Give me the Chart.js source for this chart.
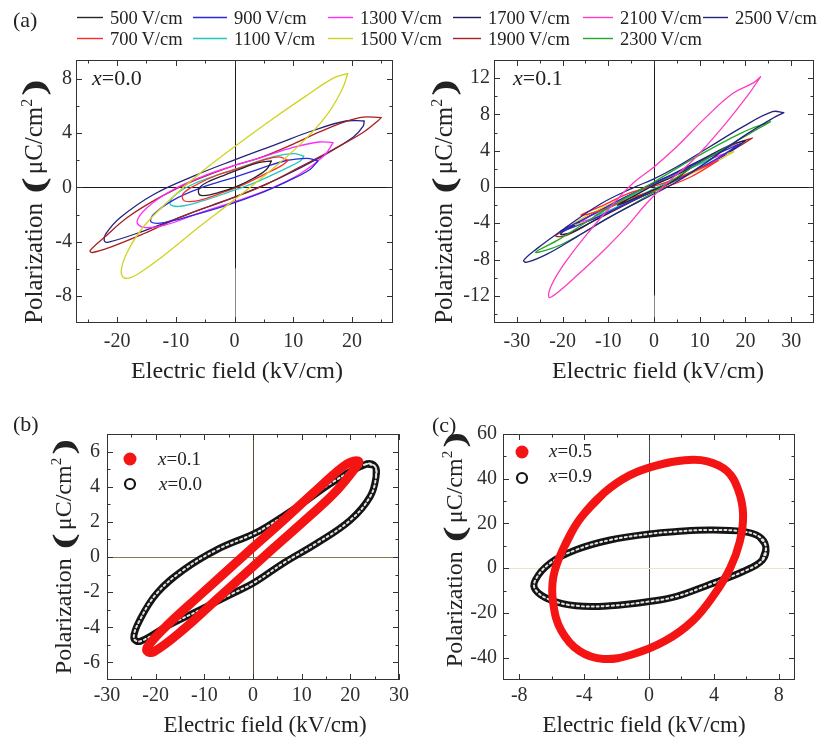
<!DOCTYPE html>
<html>
<head>
<meta charset="utf-8">
<script src="https://cdn.jsdelivr.net/npm/chart.js@4.4.1/dist/chart.umd.min.js"></script>
<style>
  html, body { margin: 0; padding: 0; background: #fff; }
  #wrap { position: relative; width: 819px; height: 742px; overflow: hidden; }
  canvas { position: absolute; left: 0; top: 0; }
</style>
</head>
<body>
<div id="wrap">
  <canvas id="pa0" width="819" height="742"></canvas>
  <canvas id="pa1" width="819" height="742"></canvas>
  <canvas id="pb" width="819" height="742"></canvas>
  <canvas id="pc" width="819" height="742"></canvas>
</div>
<script>
// ---- panel (a): field amplitudes
const fieldNames = ['500\u2009V/cm', '700\u2009V/cm', '900\u2009V/cm', '1100\u2009V/cm', '1300\u2009V/cm', '1500\u2009V/cm',
                    '1700\u2009V/cm', '1900\u2009V/cm', '2100\u2009V/cm', '2300\u2009V/cm', '2500\u2009V/cm'];
const fieldColors = ['#262626', '#ff2b2b', '#2a2ad8', '#1fc8c0', '#ff2bff', '#d2d21e',
                     '#1c1c5c', '#a82020', '#ff3cc0', '#22a822', '#24247e'];

// x = 0.0 loops, [E (kV/cm), P (uC/cm2)]
const a0_500  = [[6.3,1.95],[4.3,1.85],[1.5,1.45],[-1.5,0.95],[-4.1,0.5],[-5.8,0.05],[-6.1,-0.45],[-5.3,-0.6],[-2.5,-0.35],[0.5,0.1],[3.3,0.7],[5.4,1.3]];
const a0_700  = [[9.2,2.0],[7.5,2.25],[4.5,1.95],[1.0,1.45],[-3,0.9],[-6.5,0.2],[-8.8,-0.5],[-8.5,-1.0],[-6,-0.95],[-2.5,-0.45],[1.5,0.2],[5,0.95],[7.8,1.55]];
const a0_900  = [[14.2,1.95],[12.3,2.15],[8.5,1.95],[4.5,1.4],[0,0.75],[-5.5,0],[-10.5,-0.95],[-13.8,-2.0],[-14.2,-2.55],[-12,-2.6],[-7,-2.05],[-1.5,-1.35],[4,-0.5],[9,0.45],[12.8,1.3]];
const a0_1100 = [[11.8,2.3],[10,2.5],[6.5,2.25],[2.5,1.7],[-2,1.05],[-6.5,0.35],[-9.8,-0.45],[-11,-1.2],[-9.5,-1.4],[-5.5,-1.0],[-1,-0.35],[4,0.45],[8.5,1.35],[11.2,1.95]];
const a0_1300 = [[16.8,3.3],[14.5,3.35],[10,2.95],[4.5,2.2],[-0.5,1.55],[-5.8,0.75],[-11,-0.3],[-14.9,-1.5],[-16.6,-2.5],[-15.5,-2.95],[-12,-2.8],[-6,-1.9],[0,-1.05],[5.5,-0.2],[11,0.95],[15.3,2.35]];
const a0_1500 = [[19.3,8.4],[17,8.1],[12,6.7],[6,4.9],[0,3.0],[-6,1.0],[-11,-0.9],[-15.5,-2.9],[-18.3,-4.8],[-19.3,-6.2],[-18.6,-6.7],[-16.5,-6.4],[-12,-5.0],[-6,-2.9],[0,-0.9],[6,1.2],[11,3.1],[15.5,5.2],[18.3,7.2]];
const a0_1900 = [[25,5.15],[21.3,5.15],[15.6,4.3],[10,3.2],[4.4,2.2],[-0.2,1.6],[-6.9,0.5],[-12.6,-0.7],[-18.2,-2.2],[-22.2,-3.7],[-24.6,-4.66],[-24.2,-4.8],[-21.1,-4.4],[-15.4,-3.4],[-9.8,-2.3],[-4.1,-1.35],[-0.2,-0.75],[5.5,0.25],[11.1,1.5],[16.8,2.8],[21.9,4.05],[24.4,4.9]];
const a0_2500 = [[22.1,4.9],[19,4.9],[13.4,4.2],[7.2,3.2],[-0.2,2.0],[-6.9,0.85],[-13.7,-0.5],[-19.4,-2.2],[-21.9,-3.4],[-22.2,-3.9],[-21.6,-4.05],[-15.4,-3.2],[-8.1,-2.0],[-0.2,-0.75],[7.2,0.6],[14.5,2.2],[20.2,3.7],[21.9,4.5]];

// x = 0.1 loops
const a1_500  = [[8,2.1],[4,1.1],[0,0.2],[-4,-0.9],[-8,-2.0],[-4,-1.2],[0,-0.3],[4,0.6]];
const a1_700  = [[14,2.9],[8,1.6],[2,0.4],[-5,-0.6],[-11,-2.0],[-16,-3.1],[-11,-2.5],[-5,-1.2],[2,-0.1],[8,1.1]];
const a1_900  = [[19,4.8],[14,3.7],[6,1.8],[0,0.4],[-7,-1.3],[-14,-3.2],[-20.5,-4.9],[-14,-3.7],[-6,-1.8],[0,-0.4],[7,1.3],[14,3.2]];
const a1_1100 = [[13,3.2],[9,2.3],[3,0.9],[-3,-0.5],[-9,-2.0],[-13,-3.2],[-9,-2.4],[-3,-0.9],[3,0.5],[9,1.9]];
const a1_1300 = [[16,3.8],[12,3.0],[5,1.4],[0,0.3],[-6,-1.1],[-12,-2.7],[-16,-3.8],[-12,-3.2],[-5,-1.5],[0,-0.3],[6,1.1],[12,2.5]];
const a1_1500 = [[17.5,3.9],[14,3.4],[7,1.9],[0,0.35],[-7,-1.3],[-14,-3.0],[-17.5,-4.1],[-14,-3.7],[-7,-2.0],[0,-0.35],[7,1.2],[14,2.9]];
const a1_1700 = [[20,5.1],[17,4.7],[10,2.9],[4,1.4],[0,0.45],[-5,-0.8],[-12,-2.6],[-18,-4.4],[-20.5,-5.2],[-18,-5.0],[-12,-3.4],[-5,-1.6],[0,-0.45],[5,0.8],[12,2.5],[17.5,4.2]];
const a1_1900 = [[21.5,5.4],[18.5,4.9],[12,3.3],[5,1.5],[0,0.35],[-6,-1.1],[-13,-2.9],[-19,-4.6],[-21.5,-5.4],[-19,-5.3],[-13,-3.7],[-6,-1.9],[0,-0.4],[6,1.0],[13,2.8],[19,4.6]];
const a1_2100 = [[23.3,12.15],[21.8,11.5],[17.2,10.3],[11.4,7.7],[4.9,4.4],[0,2.2],[-4.6,0.4],[-8.9,-1.85],[-14,-4.8],[-19.1,-8.1],[-22.3,-10.7],[-23,-12.15],[-21.5,-11.8],[-16.5,-9.6],[-11.8,-7.4],[-6,-4.4],[-1.7,-1.85],[2.7,0.37],[8.5,2.95],[15,6.6],[20.8,10.3]];
const a1_2300 = [[25.5,7.2],[19.3,6.0],[8.5,3.1],[0,0.55],[-9.6,-2.2],[-20.5,-5.7],[-25.9,-7.2],[-20.5,-6.4],[-9.6,-3.3],[0,-0.55],[8.5,2.2],[19.3,5.4]];
const a1_2500 = [[28.4,8.2],[25.9,8.3],[19.3,6.6],[12.1,4.4],[4.9,2.2],[0,0.9],[-4.6,-0.1],[-11.8,-1.9],[-19.1,-4.4],[-25.6,-6.8],[-28.5,-8.1],[-27.8,-8.3],[-23.4,-7.4],[-16.9,-5.5],[-9.6,-3.3],[0,-0.75],[4.9,0.55],[12.1,2.95],[19.3,5.5],[25.9,7.55]];

// ---- panel (b)
const b_x01 = [[21.7,5.45],[19.3,5.3],[13.2,3.85],[6.3,2.1],[0,0.55],[-4,-0.45],[-10.8,-2.15],[-17.7,-3.9],[-21.4,-5.0],[-21.8,-5.35],[-20.4,-5.4],[-14.2,-4.1],[-7.4,-2.4],[0,-0.55],[4.2,0.5],[11.1,2.2],[16.6,3.6],[20.7,4.95]];
const b_x00 = [[25.1,5.15],[23.4,5.3],[16.6,4.3],[9.7,2.97],[2.9,1.74],[0,1.3],[-7.4,0.42],[-14.2,-0.72],[-19.7,-2.05],[-23.2,-3.56],[-24.5,-4.6],[-23.2,-4.8],[-17.7,-3.94],[-10.8,-3.0],[-4,-2.05],[0,-1.5],[6.3,-0.34],[13.2,0.8],[20,2.1],[24.1,3.45],[25.3,4.6]];

// ---- panel (c)
const c_x05 = [[-4.3,21.6],[-2.8,33.5],[-1.2,41.5],[0.5,46],[2.2,48.3],[3.6,47.8],[4.8,43.5],[5.5,35],[5.8,24],[5.6,12],[5.0,0],[4.0,-12],[2.7,-23.5],[1.0,-32.5],[-1.0,-38.5],[-2.8,-40.6],[-4.3,-37],[-5.4,-28],[-5.9,-16],[-5.9,-4],[-5.3,8.5]];
const c_x09 = [[7.2,9.7],[6.8,14.1],[5.8,16.4],[3.7,17.1],[1.7,16.4],[0,15.3],[-2.4,12.6],[-4.5,8.2],[-6.1,2.2],[-7.0,-5.2],[-7.0,-9.7],[-6.1,-14.1],[-4.5,-16.8],[-2.4,-16.8],[0,-14.9],[1.7,-12.6],[3.7,-7.4],[5.8,-1.5],[7.0,3.7]];

// ---- tick labels
const a0XTicks = [-20, -10, 0, 10, 20];
const a0YTicks = [-8, -4, 0, 4, 8];
const a1XTicks = [-30, -20, -10, 0, 10, 20, 30];
const a1YTicks = [-12, -8, -4, 0, 4, 8, 12];
const bXTicks = [-30, -20, -10, 0, 10, 20, 30];
const bYTicks = [-6, -4, -2, 0, 2, 4, 6];
const cXTicks = [-8, -4, 0, 4, 8];
const cYTicks = [-40, -20, 0, 20, 40, 60];

const SERIF = '"Liberation Serif", "Times New Roman", serif';
const RED = '#f51414';

// closed loop; "wrap" repeats neighbours so the spline has no corner at the seam
function loop(arr, wrap) {
  const p = arr.map(([x, y]) => ({ x, y }));
  const first = { x: arr[0][0], y: arr[0][1] };
  if (!wrap) return p.concat([first]);
  const last = arr[arr.length - 1];
  return [{ x: last[0], y: last[1] }].concat(p, [first, { x: arr[1][0], y: arr[1][1] }]);
}
function lineSet(arr, color, width, dash, wrap) {
  return { data: loop(arr, wrap), showLine: true, borderColor: color, backgroundColor: color,
           borderWidth: width, borderDash: dash || [], pointRadius: 0, pointHoverRadius: 0,
           tension: 0.4, borderCapStyle: 'round', borderJoinStyle: 'round', fill: false };
}

function axis(min, max, ticks, pad, isX) {
  return {
    type: 'linear', min, max,
    afterBuildTicks: s => { s.ticks = ticks.map(v => ({ value: v })); },
    afterFit: s => { if (isX) s.height = 40; else s.width = 60; },
    grid: { display: false, drawTicks: false },
    border: { display: false },
    ticks: { padding: pad, color: '#2e2e2e', autoSkip: false, maxRotation: 0,
             font: { family: SERIF, size: 20 }, callback: v => String(v) }
  };
}

function minors(min, max, step, majors) {
  const out = [];
  for (let v = Math.ceil(min / step) * step; v < max; v += step) {
    if (v > min && !majors.includes(v)) out.push(v);
  }
  return out;
}

function framePlugin(p, extra) {
  return {
    id: 'frame_' + p.id,
    beforeDatasetsDraw(chart) {
      const { ctx, scales: { x, y } } = chart;
      ctx.save();
      ctx.lineWidth = 1;
      for (const z of p.zero) {
        ctx.strokeStyle = z.color;
        ctx.beginPath();
        if (z.dir === 'v') {
          const px = Math.round(x.getPixelForValue(0)) + 0.5;
          ctx.moveTo(px, y.getPixelForValue(z.from));
          ctx.lineTo(px, y.getPixelForValue(z.to));
        } else {
          const py = Math.round(y.getPixelForValue(0)) + 0.5;
          ctx.moveTo(x.getPixelForValue(z.from), py);
          ctx.lineTo(x.getPixelForValue(z.to), py);
        }
        ctx.stroke();
      }
      ctx.restore();
    },
    afterDatasetsDraw(chart) {
      const { ctx, chartArea: a, scales: { x, y } } = chart;
      ctx.save();
      ctx.strokeStyle = '#333';
      ctx.lineWidth = 1;
      ctx.beginPath();
      const xt = (v, len) => {
        const px = Math.round(x.getPixelForValue(v)) + 0.5;
        ctx.moveTo(px, a.bottom); ctx.lineTo(px, a.bottom - len);
        ctx.moveTo(px, a.top); ctx.lineTo(px, a.top + len);
      };
      const yt = (v, len) => {
        const py = Math.round(y.getPixelForValue(v)) + 0.5;
        ctx.moveTo(a.left, py); ctx.lineTo(a.left + len, py);
        ctx.moveTo(a.right, py); ctx.lineTo(a.right - len, py);
      };
      p.xt.forEach(v => xt(v, 6));
      p.yt.forEach(v => yt(v, 6));
      minors(p.x[0], p.x[1], p.xm, p.xt).forEach(v => xt(v, 3.5));
      minors(p.y[0], p.y[1], p.ym, p.yt).forEach(v => yt(v, 3.5));
      ctx.stroke();
      ctx.strokeRect(a.left + 0.5, a.top + 0.5, a.right - a.left - 1, a.bottom - a.top - 1);
      ctx.restore();
    },
    afterDraw(chart) { extra(chart.ctx); }
  };
}

function panel(id, p, datasets, extra) {
  return new Chart(document.getElementById(id), {
    type: 'scatter',
    data: { datasets },
    options: {
      responsive: false, animation: false, events: [],
      layout: { padding: { left: p.box[0] - 60, top: p.box[1], right: 819 - p.box[2], bottom: 742 - p.box[3] - 40 } },
      plugins: { legend: { display: false }, tooltip: { enabled: false } },
      scales: { x: axis(p.x[0], p.x[1], p.xt, p.xpad, true), y: axis(p.y[0], p.y[1], p.yt, p.ypad, false) }
    },
    plugins: [framePlugin(p, extra)]
  });
}

// ---- text helpers
function txt(ctx, s, x, y, size, align, style) {
  ctx.font = (style || '') + ' ' + size + 'px ' + SERIF;
  ctx.textAlign = align || 'left';
  ctx.textBaseline = 'alphabetic';
  ctx.fillStyle = '#222';
  ctx.fillText(s, x, y);
}
function xEq(ctx, rest, x, y, size) {
  txt(ctx, 'x', x, y, size, 'left', 'italic');
  const w = ctx.measureText('x').width;
  txt(ctx, rest, x + w, y, size, 'left');
}
function xTitle(ctx, cx, by, size) {
  txt(ctx, 'Electric field (kV/cm)', cx, by, size, 'center');
}
// rotated axis title with the tall, wide brackets of the original
function yTitle(ctx, bx, cy, size) {
  const pf = 'bold ' + Math.round(size * 1.25) + 'px ';
  const stretch = 1.6, gap = 3;
  const segs = [
    ['Polarization ', size + 'px ', 0, 1],
    ['(', pf, 2, stretch],
    ['\u03bcC/cm', size + 'px ', 0, 1],
    ['2', Math.round(size * 0.62) + 'px ', -size * 0.42, 1],
    [')', pf, 2, stretch]
  ];
  ctx.save();
  ctx.translate(bx, cy);
  ctx.rotate(-Math.PI / 2);
  ctx.textAlign = 'left';
  ctx.textBaseline = 'alphabetic';
  ctx.fillStyle = '#222';
  const widths = segs.map(([s, f, dy, k]) => { ctx.font = f + SERIF; return ctx.measureText(s).width * k + (k > 1 ? 2 * gap : 0); });
  const total = widths.reduce((a, b) => a + b, 0);
  let cur = -total / 2;
  segs.forEach(([s, f, dy, k], i) => {
    ctx.font = f + SERIF;
    if (k > 1) {
      ctx.save(); ctx.translate(cur + gap, dy); ctx.scale(k, 1); ctx.fillText(s, 0, 0); ctx.restore();
    } else {
      ctx.fillText(s, cur, dy);
    }
    cur += widths[i];
  });
  ctx.restore();
}

// ---- panel (a) left, x = 0.0
const legLineX = [77, 193, 328, 453, 583, 703];
const legTextX = [110, 234, 360, 488, 620, 735];
const legRowY = [17, 38];
const a0Loops = [a0_500, a0_700, a0_900, a0_1100, a0_1300, a0_1500, null, a0_1900, null, null, a0_2500];
const a1Loops = [a1_500, a1_700, a1_900, a1_1100, a1_1300, a1_1500, a1_1700, a1_1900, a1_2100, a1_2300, a1_2500];

function fieldSets(loops, topFirst) {
  const idx = loops.map((l, i) => i).filter(i => loops[i]);
  const order = topFirst.concat(idx.filter(i => !topFirst.includes(i)));
  return order.map(i => lineSet(loops[i], fieldColors[i], 1.3));
}

panel('pa0', {
  id: 'a0', box: [76, 60, 393, 323], x: [-27, 27], y: [-10, 9.4], xt: a0XTicks, yt: a0YTicks, xm: 5, ym: 2, xpad: 7, ypad: 4,
  zero: [{ dir: 'v', from: -6, to: 9.4, color: '#1a1a1a' }, { dir: 'v', from: -10, to: -6, color: '#8a8a8a' },
         { dir: 'h', from: -27, to: 27, color: '#1a1a1a' }]
}, fieldSets(a0Loops, [5]), ctx => {
  txt(ctx, '(a)', 13, 27, 22);
  fieldNames.forEach((n, i) => {
    const col = Math.floor(i / 2), row = i % 2;
    const y = legRowY[row];
    ctx.save();
    ctx.strokeStyle = fieldColors[i]; ctx.lineWidth = 1.4;
    ctx.beginPath(); ctx.moveTo(legLineX[col], y + 0.5); ctx.lineTo(legTextX[col] - 7, y + 0.5); ctx.stroke();
    ctx.restore();
    txt(ctx, n, legTextX[col], y + 6.5, 18.5);
  });
  xEq(ctx, '=0.0', 92, 85, 22);
  xTitle(ctx, 237, 378, 24);
  yTitle(ctx, 42, 200, 25);
});

// ---- panel (a) right, x = 0.1
panel('pa1', {
  id: 'a1', box: [494, 60, 814, 323], x: [-35, 35], y: [-15, 14], xt: a1XTicks, yt: a1YTicks, xm: 5, ym: 2, xpad: 7, ypad: 4,
  zero: [{ dir: 'v', from: -12, to: 14, color: '#1a1a1a' }, { dir: 'v', from: -15, to: -12, color: '#8a8a8a' },
         { dir: 'h', from: -35, to: 35, color: '#1a1a1a' }]
}, fieldSets(a1Loops, [8, 10, 9]), ctx => {
  xEq(ctx, '=0.1', 513, 85, 22);
  xTitle(ctx, 658, 378, 24);
  yTitle(ctx, 452, 200, 25);
});

// ---- panel (b)
panel('pb', {
  id: 'b', box: [107, 434, 399, 680], x: [-30, 30], y: [-7, 7], xt: bXTicks, yt: bYTicks, xm: 5, ym: 1, xpad: 4, ypad: 7,
  zero: [{ dir: 'v', from: -7, to: 7, color: '#5c4b2e' }, { dir: 'h', from: -30, to: 30, color: '#8c7b52' }]
}, [lineSet(b_x01, RED, 9, null, true), lineSet(b_x00, '#e4e4e4', 2, [2, 3], true), lineSet(b_x00, '#141414', 7, null, true)], ctx => {
  txt(ctx, '(b)', 13, 431, 22);
  ctx.save();
  ctx.fillStyle = RED; ctx.beginPath(); ctx.arc(130, 459, 6.5, 0, Math.PI * 2); ctx.fill();
  ctx.strokeStyle = '#141414'; ctx.lineWidth = 2.2; ctx.beginPath(); ctx.arc(130, 484, 5, 0, Math.PI * 2); ctx.stroke();
  ctx.restore();
  xEq(ctx, '=0.1', 158, 465, 19);
  xEq(ctx, '=0.0', 159, 490, 19);
  xTitle(ctx, 265, 732, 23);
  yTitle(ctx, 71, 555, 24);
});

// ---- panel (c)
panel('pc', {
  id: 'c', box: [503, 434, 795, 680], x: [-9, 9], y: [-50, 60], xt: cXTicks, yt: cYTicks, xm: 2, ym: 10, xpad: 4, ypad: 6,
  zero: [{ dir: 'v', from: -50, to: 60, color: '#4a4a4a' }, { dir: 'h', from: -9, to: 9, color: '#efe4c0' }]
}, [lineSet(c_x05, RED, 8, null, true), lineSet(c_x09, '#e4e4e4', 2, [2, 3], true), lineSet(c_x09, '#141414', 7, null, true)], ctx => {
  txt(ctx, '(c)', 432, 432, 22);
  ctx.save();
  ctx.fillStyle = RED; ctx.beginPath(); ctx.arc(522, 452, 6.5, 0, Math.PI * 2); ctx.fill();
  ctx.strokeStyle = '#141414'; ctx.lineWidth = 2.2; ctx.beginPath(); ctx.arc(522, 478, 5, 0, Math.PI * 2); ctx.stroke();
  ctx.restore();
  xEq(ctx, '=0.5', 549, 457, 19);
  xEq(ctx, '=0.9', 549, 482, 19);
  xTitle(ctx, 644, 732, 23);
  yTitle(ctx, 462, 548, 24);
});
</script>
</body>
</html>
